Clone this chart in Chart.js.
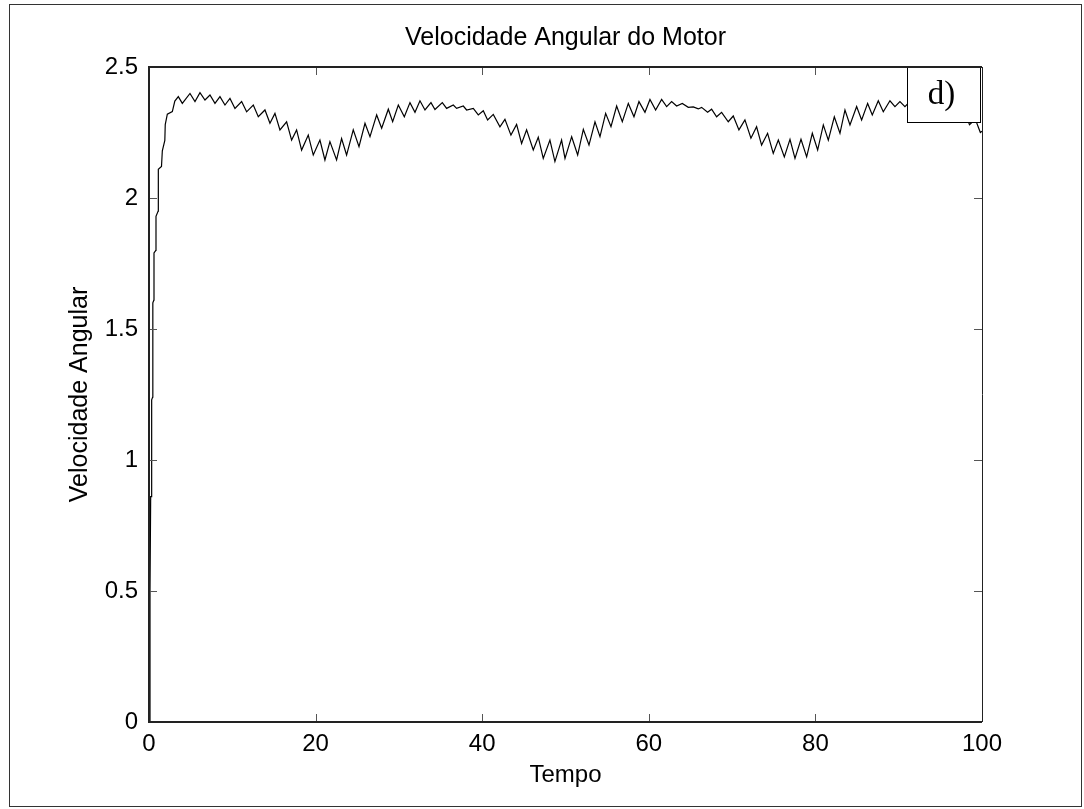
<!DOCTYPE html>
<html>
<head>
<meta charset="utf-8">
<script src="https://cdn.jsdelivr.net/npm/chart.js@4/dist/chart.umd.min.js"></script>
<style>
  html, body { margin: 0; padding: 0; background: #fff; }
  #wrap { width: 1084px; height: 809px; position: relative; }
</style>
</head>
<body>
<div id="wrap"><canvas id="c" width="1084" height="809"></canvas></div>
<script>
// ---- data ----
const chartTitle = 'Velocidade Angular do Motor';
const xAxisTitle = 'Tempo';
const yAxisTitle = 'Velocidade Angular';
const panelLabel = 'd)';

const xTickValues = [0, 20, 40, 60, 80, 100];
const xTickLabels = ['0', '20', '40', '60', '80', '100'];
const yTickValues = [0, 0.5, 1, 1.5, 2, 2.5];
const yTickLabels = ['0', '0.5', '1', '1.5', '2', '2.5'];

const tempo = [
  0, 0.12, 0.2, 0.3, 0.32, 0.44, 0.46, 0.58, 0.6, 0.82, 0.84, 1.1, 1.12, 1.5, 1.6, 1.9, 1.95, 2.2, 2.8, 3.1,
  3.52, 4.0, 4.92, 5.52, 6.12, 6.72, 7.32, 7.92, 8.52, 9.12, 9.72, 10.32, 11.12, 11.72, 12.52, 13.12,
  13.92, 14.52, 15.12, 15.72, 16.52, 17.12, 17.72, 18.32, 19.12, 19.72, 20.52, 21.12, 21.72, 22.52,
  23.12, 23.72, 24.52, 25.21, 25.93, 26.53, 27.33, 27.93, 28.73, 29.25, 29.93, 30.65, 31.33, 31.93,
  32.53, 33.13, 33.85, 34.33, 35.21, 35.73, 36.53, 36.93, 37.73, 38.13, 38.93, 39.53, 40.13, 40.65,
  41.33, 42.13, 42.73, 43.45, 44.13, 44.73, 45.33, 46.13, 46.73, 47.33, 48.13, 48.73, 49.53, 49.94,
  50.74, 51.46, 52.14, 52.82, 53.54, 54.14, 54.82, 55.46, 56.14, 56.82, 57.54, 58.22, 58.82, 59.54,
  60.14, 60.82, 61.54, 62.14, 62.74, 63.34, 64.02, 64.74, 65.34, 65.94, 66.34, 67.06, 67.54, 68.14,
  68.74, 69.54, 70.14, 70.82, 71.54, 72.26, 72.94, 73.54, 74.26, 74.94, 75.55, 76.27, 76.95, 77.55,
  78.27, 78.95, 79.63, 80.27, 80.95, 81.55, 82.27, 82.95, 83.55, 84.15, 84.95, 85.55, 86.27, 86.83,
  87.55, 88.15, 88.95, 89.55, 90.15, 90.75, 91.4, 92.0, 92.7, 93.3, 94.0, 94.6, 95.3, 95.9, 96.6,
  97.2, 97.9, 98.5, 99.2, 99.8, 100
];
const velocidade = [
  0, 0.5, 0.86, 0.86, 1.23, 1.24, 1.60, 1.61, 1.79, 1.80, 1.93, 1.95, 2.11, 2.12, 2.18, 2.22, 2.28, 2.32, 2.33, 2.37,
  2.387, 2.361, 2.399, 2.368, 2.402, 2.374, 2.393, 2.361, 2.387, 2.355, 2.380, 2.342, 2.368, 2.329, 2.355, 2.310,
  2.336, 2.285, 2.323, 2.260, 2.291, 2.221, 2.260, 2.183, 2.240, 2.164, 2.221, 2.145, 2.215, 2.145,
  2.227, 2.164, 2.260, 2.196, 2.285, 2.234, 2.317, 2.266, 2.339, 2.291, 2.355, 2.310, 2.364, 2.327,
  2.371, 2.336, 2.364, 2.338, 2.364, 2.342, 2.355, 2.342, 2.351, 2.336, 2.342, 2.317, 2.333, 2.298,
  2.319, 2.272, 2.300, 2.240, 2.281, 2.208, 2.260, 2.183, 2.232, 2.151, 2.221, 2.139, 2.221, 2.151,
  2.234, 2.164, 2.262, 2.202, 2.291, 2.234, 2.323, 2.272, 2.351, 2.291, 2.361, 2.310, 2.368, 2.327,
  2.376, 2.336, 2.376, 2.349, 2.368, 2.351, 2.361, 2.346, 2.348, 2.340, 2.346, 2.327, 2.339, 2.310,
  2.327, 2.291, 2.313, 2.260, 2.298, 2.228, 2.272, 2.202, 2.247, 2.170, 2.221, 2.157, 2.224, 2.151,
  2.224, 2.157, 2.247, 2.183, 2.279, 2.221, 2.310, 2.247, 2.336, 2.279, 2.349, 2.298, 2.361, 2.317,
  2.371, 2.329, 2.371, 2.349, 2.368, 2.349, 2.37, 2.35, 2.37, 2.35, 2.365, 2.34, 2.36, 2.33, 2.35,
  2.31, 2.33, 2.28, 2.30, 2.25, 2.255
];
// label box extent in data units (x from..to, y from..to)
const labelBoxX = [91.0, 99.75];
const labelBoxY = [2.289, 2.5];

// ---- styling ----
const FONT = "'Liberation Sans', Arial, Helvetica, sans-serif";

const framePlugin = {
  id: 'matlabFrame',
  afterDatasetsDraw(chart) {
    const ctx = chart.ctx;
    const xs = chart.scales.x, ys = chart.scales.y;
    const a = chart.chartArea;
    ctx.save();
    // label box "d)"
    const bx0 = xs.getPixelForValue(labelBoxX[0]);
    const bx1 = xs.getPixelForValue(labelBoxX[1]);
    const by0 = ys.getPixelForValue(labelBoxY[1]);
    const by1 = ys.getPixelForValue(labelBoxY[0]);
    ctx.fillStyle = '#fff';
    ctx.fillRect(bx0, by0, bx1 - bx0, by1 - by0);
    ctx.strokeStyle = '#000';
    ctx.lineWidth = 1;
    ctx.strokeRect(Math.round(bx0) + 0.5, Math.round(by0) + 0.5, Math.round(bx1 - bx0), Math.round(by1 - by0));
    ctx.fillStyle = '#000';
    ctx.font = "33px 'Liberation Serif', 'Times New Roman', serif";
    ctx.textAlign = 'center';
    ctx.textBaseline = 'middle';
    ctx.fillText(panelLabel, (bx0 + bx1) / 2 - 2, (by0 + by1) / 2 + 1);

    // inward ticks
    ctx.strokeStyle = '#555';
    ctx.lineWidth = 1;
    const TL = 8;
    ctx.beginPath();
    xs.ticks.forEach(t => {
      const px = Math.round(xs.getPixelForValue(t.value)) + 0.5;
      ctx.moveTo(px, a.bottom); ctx.lineTo(px, a.bottom - TL);
      ctx.moveTo(px, a.top); ctx.lineTo(px, a.top + TL);
    });
    ys.ticks.forEach(t => {
      const py = Math.round(ys.getPixelForValue(t.value)) + 0.5;
      ctx.moveTo(a.left, py); ctx.lineTo(a.left + TL, py);
      ctx.moveTo(a.right, py); ctx.lineTo(a.right - TL, py);
    });
    ctx.stroke();

    // axes box
    ctx.strokeStyle = '#222';
    ctx.lineWidth = 2;
    ctx.beginPath();
    ctx.moveTo(a.right, a.top); ctx.lineTo(a.left, a.top);
    ctx.lineTo(a.left, a.bottom); ctx.lineTo(a.right, a.bottom);
    ctx.stroke();
    ctx.lineWidth = 1;
    ctx.beginPath();
    ctx.moveTo(Math.round(a.right) + 0.5, a.top);
    ctx.lineTo(Math.round(a.right) + 0.5, a.bottom);
    ctx.stroke();

    // outer figure border
    ctx.strokeStyle = '#333';
    ctx.lineWidth = 1;
    ctx.strokeRect(9.5, 4.5, 1072, 802);
    ctx.restore();
  }
};

const points = tempo.map((t, i) => ({ x: t, y: velocidade[i] }));

new Chart(document.getElementById('c'), {
  type: 'line',
  data: {
    datasets: [{
      data: points,
      borderColor: '#000',
      borderWidth: 1.2,
      pointRadius: 0,
      tension: 0,
      fill: false
    }]
  },
  options: {
    responsive: false,
    animation: false,
    events: [],
    layout: { padding: { left: 0, right: 102, top: 0, bottom: 0 } },
    plugins: {
      legend: { display: false },
      tooltip: { enabled: false },
      title: {
        display: true,
        fullSize: false,
        text: chartTitle,
        color: '#000',
        font: { family: FONT, size: 25, weight: 'normal' },
        padding: { top: 23, bottom: 14 }
      }
    },
    scales: {
      x: {
        type: 'linear',
        min: 0, max: 100,
        afterBuildTicks: s => { s.ticks = xTickValues.map(v => ({ value: v })); },
        afterFit: s => { s.height = 87; },
        grid: { display: false, drawTicks: false },
        border: { display: false },
        ticks: {
          color: '#000',
          font: { family: FONT, size: 24 },
          padding: 8,
          maxRotation: 0,
          callback: (v) => xTickLabels[xTickValues.indexOf(v)]
        },
        title: {
          display: true, text: xAxisTitle, color: '#000',
          font: { family: FONT, size: 24 },
          padding: { top: 0, bottom: 19.6 }
        }
      },
      y: {
        type: 'linear',
        min: 0, max: 2.5,
        afterBuildTicks: s => { s.ticks = yTickValues.map(v => ({ value: v })); },
        afterFit: s => { s.width = 149; },
        grid: { display: false, drawTicks: false },
        border: { display: false },
        ticks: {
          color: '#000',
          font: { family: FONT, size: 24 },
          padding: 11,
          callback: (v) => yTickLabels[yTickValues.indexOf(v)]
        },
        title: {
          display: true, text: yAxisTitle, color: '#000',
          font: { family: FONT, size: 25 },
          padding: { top: 65, bottom: 0 }
        }
      }
    }
  },
  plugins: [framePlugin]
});
</script>
</body>
</html>
